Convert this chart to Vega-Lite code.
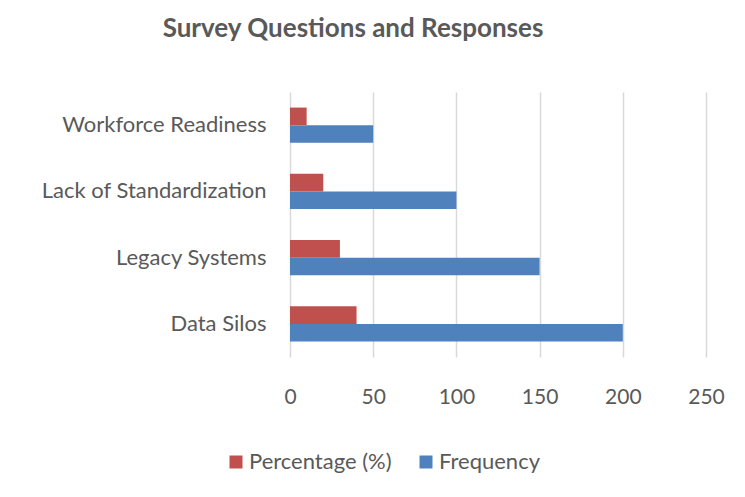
{
  "$schema": "https://vega.github.io/schema/vega-lite/v6.json",
  "width": 416,
  "height": 265,
  "autosize": "none",
  "padding": {"left": 290, "top": 92, "right": 39, "bottom": 140},
  "background": "white",
  "config": {
    "font": "Lato",
    "view": {"stroke": null}
  },
  "title": {
    "text": "Survey Questions and Responses",
    "anchor": "middle",
    "dx": -145,
    "offset": 50,
    "fontSize": 26,
    "fontWeight": "bold",
    "color": "#595959",
    "font": "Lato"
  },
  "data": {
    "values": [
      {"question": "Workforce Readiness", "series": "Percentage (%)", "value": 10},
      {"question": "Workforce Readiness", "series": "Frequency", "value": 50},
      {"question": "Lack of Standardization", "series": "Percentage (%)", "value": 20},
      {"question": "Lack of Standardization", "series": "Frequency", "value": 100},
      {"question": "Legacy Systems", "series": "Percentage (%)", "value": 30},
      {"question": "Legacy Systems", "series": "Frequency", "value": 150},
      {"question": "Data Silos", "series": "Percentage (%)", "value": 40},
      {"question": "Data Silos", "series": "Frequency", "value": 200}
    ]
  },
  "mark": {"type": "bar"},
  "encoding": {
    "y": {
      "field": "question",
      "type": "nominal",
      "sort": ["Workforce Readiness", "Lack of Standardization", "Legacy Systems", "Data Silos"],
      "scale": {"paddingInner": 0.47, "paddingOuter": 0.235},
      "axis": {
        "title": null,
        "domain": false,
        "ticks": false,
        "labelPadding": 24,
        "labelFontSize": 22,
        "labelColor": "#595959",
        "labelLimit": 300
      }
    },
    "yOffset": {
      "field": "series",
      "type": "nominal",
      "sort": ["Percentage (%)", "Frequency"],
      "scale": {"paddingInner": 0, "paddingOuter": 0}
    },
    "x": {
      "field": "value",
      "type": "quantitative",
      "scale": {"domain": [0, 250], "nice": false},
      "axis": {
        "title": null,
        "values": [0, 50, 100, 150, 200, 250],
        "domain": false,
        "ticks": false,
        "grid": true,
        "gridColor": "#D9D9D9",
        "gridWidth": 1.5,
        "labelPadding": 29,
        "labelFontSize": 21,
        "labelColor": "#595959",
        "labelFlush": false
      }
    },
    "color": {
      "field": "series",
      "type": "nominal",
      "scale": {"domain": ["Percentage (%)", "Frequency"], "range": ["#C0504D", "#4F81BD"]},
      "legend": {
        "title": null,
        "orient": "none",
        "direction": "horizontal",
        "legendX": -65,
        "legendY": 359,
        "symbolType": "square",
        "symbolSize": 169,
        "symbolStrokeWidth": 0,
        "labelFontSize": 22,
        "labelColor": "#595959",
        "labelOffset": 2,
        "columnPadding": 23,
        "labelLimit": 300
      }
    }
  }
}
